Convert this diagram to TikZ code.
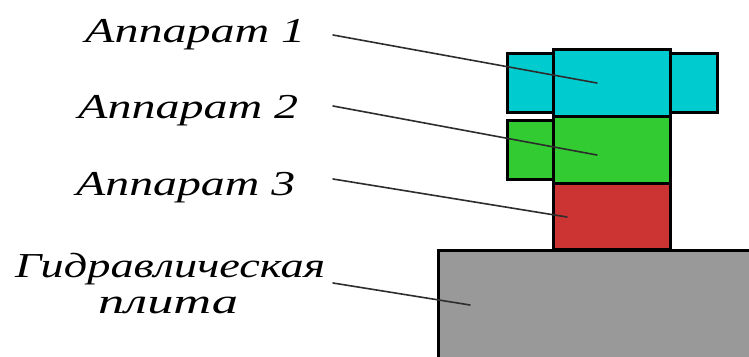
\documentclass[tikz,border=0pt]{standalone}
\usepackage{fontspec}
\usepackage{graphicx}
\setmainfont{Liberation Serif}
\definecolor{unitA}{RGB}{0,204,208}
\definecolor{unitB}{RGB}{50,204,50}
\definecolor{unitC}{RGB}{204,51,51}
\definecolor{plategray}{RGB}{153,153,153}
\definecolor{leader}{RGB}{45,45,45}
\tikzset{
  part/.style={draw=black, line width=3pt, inner sep=0pt, outer sep=0pt, anchor=north west},
  caption/.style={inner sep=0pt, anchor=base west, font=\fontsize{35}{40}\selectfont\itshape},
  pointer/.style={draw=leader, line width=1.6pt, line cap=round}
}
% fixed-width label text, height kept
\newcommand{\fitlabel}[2]{\resizebox{#1pt}{\height}{#2}}
\begin{document}
\begin{tikzpicture}[x=1pt, y=-1pt]
  \useasboundingbox (0,0) rectangle (749,356);
  \clip (0,0) rectangle (749,356);

  % hydraulic plate
  \node[part, fill=plategray, minimum width=330pt, minimum height=130pt] (plate) at (438,250) {};

  % unit 1 with two side wings
  \node[part, fill=unitA, minimum width=46pt, minimum height=59pt] (u1l) at (507,53) {};
  \node[part, fill=unitA, minimum width=47pt, minimum height=59pt] (u1r) at (670,53) {};
  \node[part, fill=unitA, minimum width=117pt, minimum height=67pt] (u1) at (553,49) {};

  % unit 2 with one side wing
  \node[part, fill=unitB, minimum width=46pt, minimum height=59pt] (u2l) at (507,120) {};
  \node[part, fill=unitB, minimum width=117pt, minimum height=67pt] (u2) at (553,116) {};

  % unit 3
  \node[part, fill=unitC, minimum width=117pt, minimum height=66pt] (u3) at (553,183) {};

  % labels
  \node[caption] (t1) at (85,42) {\fitlabel{220}{Аппарат 1}};
  \node[caption] (t2) at (78,118) {\fitlabel{220}{Аппарат 2}};
  \node[caption] (t3) at (76,195) {\fitlabel{219}{Аппарат 3}};
  \node[caption] (t4) at (15,277) {\fitlabel{310}{Гидравлическая}};
  \node[caption] (t5) at (98,313) {\fitlabel{140}{плита}};

  % pointer lines
  \coordinate (s1) at (333,35);
  \coordinate (s2) at (333,106);
  \coordinate (s3) at (333,179);
  \coordinate (s4) at (333,283);
  \coordinate (e1) at (597,83);
  \coordinate (e2) at (597,155);
  \coordinate (e3) at (567,217);
  \coordinate (e4) at (470,305);
  \draw[pointer] (s1) -- (e1);
  \draw[pointer] (s2) -- (e2);
  \draw[pointer] (s3) -- (e3);
  \draw[pointer] (s4) -- (e4);
\end{tikzpicture}
\end{document}
